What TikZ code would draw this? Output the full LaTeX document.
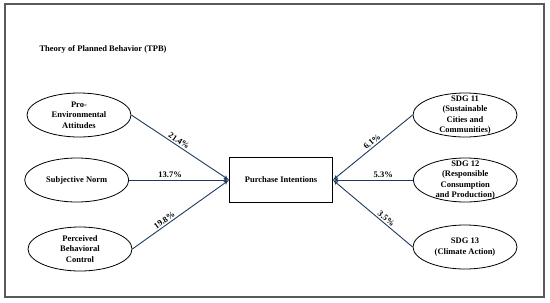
\documentclass[tikz,border=0pt]{standalone}
\usepackage{fontspec}
\setmainfont{Liberation Serif}
\usepackage{tikz}
\usetikzlibrary{shapes, arrows, positioning}

\definecolor{linknavy}{HTML}{1F3A5C}

\begin{document}
\begin{tikzpicture}[x=1pt, y=-1pt, >=latex', node distance=100pt,
        font=\fontsize{8.5}{10.5}\selectfont\bfseries]
        \tikzstyle{construct} = [draw, ellipse, thick, minimum width=104pt, minimum height=44pt, inner sep=-5pt, align=center]
        \tikzstyle{target} = [draw, rectangle, thick, minimum width=103pt, minimum height=45pt, align=center]
        \tikzstyle{link} = [->, draw=linknavy, line width=0.9pt]
        \tikzstyle{share} = [sloped, above, inner sep=1.5pt]

        \useasboundingbox (0,0) rectangle (550,303);
        \draw [gray!70!black, line width=1.3pt] (5,4) rectangle (544,297);

        % Titlu
        \node [anchor=west] (title) at (36,49) {Theory of Planned Behavior (TPB)};

        % Intentia de cumparare
        \node [target] (pi) at (281,180) {Purchase Intentions};

        % Constructele TPB
        \node [construct, left=100pt of pi] (sn) {Subjective Norm};
        \node [construct] (pea) at (79,115) {Pro-\\Environmental\\Attitudes};
        \node [construct] (pbc) at (80,249) {Perceived\\Behavioral\\Control};

        % Obiectivele SDG
        \node [construct, right=80pt of pi] (sdg12) {SDG 12\\(Responsible\\Consumption\\and Production)};
        \node [construct] (sdg11) at (465,115) {SDG 11\\(Sustainable\\Cities and\\Communities)};
        \node [construct] (sdg13) at (465,247) {SDG 13\\(Climate Action)};

        % Legaturi cu procente
        \draw [link] (pea.east) -- node[share, pos=0.46] {21.4\%} (pi.west);
        \draw [link] (sn.east) -- node[share, pos=0.41] {13.7\%} (pi.west);
        \draw [link] (pbc.east) -- node[share, pos=0.36] {19.8\%} (pi.west);
        \draw [link] (sdg11.west) -- node[share, pos=0.47] {6.1\%} (pi.east);
        \draw [link] (sdg12.west) -- node[share, pos=0.37] {5.3\%} (pi.east);
        \draw [link] (sdg13.west) -- node[share, pos=0.37] {3.5\%} (pi.east);

\end{tikzpicture}
\end{document}
